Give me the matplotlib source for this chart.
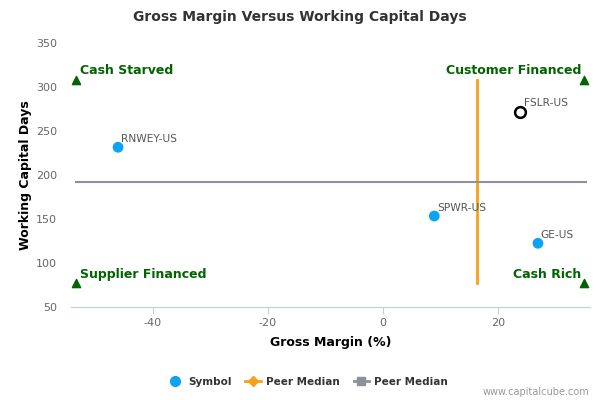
import matplotlib.pyplot as plt
from matplotlib.lines import Line2D

plt.rcParams["axes.unicode_minus"] = False

# company points: gross margin (%) vs working capital days
symbols = ["RNWEY-US", "SPWR-US", "GE-US"]
gross_margin = [-46.0, 8.9, 26.9]
wc_days = [231.5, 153.4, 122.4]

# highlighted company
focus_symbol = "FSLR-US"
focus_margin = 23.7
focus_days = 271.9

# peer medians
median_margin = 16.4
median_days = 192.4

# quadrant corners
x_lo, x_hi = -53.3, 34.9
y_lo, y_hi = 77, 308
quad_labels = ["Cash Starved", "Customer Financed", "Supplier Financed", "Cash Rich"]

xticks = [-40, -20, 0, 20]
yticks = [50, 100, 150, 200, 250, 300, 350]

blue = "#0ca3f2"
green = "#006400"
axis_col = "#c0d0e0"

fig = plt.figure(figsize=(6, 4), dpi=100)
ax = fig.add_axes([0.118, 0.2325, 0.865, 0.66])

# medians
ax.plot([median_margin, median_margin], [y_lo, y_hi], color="#f7a11a", lw=2, zorder=2)
ax.plot([x_lo, x_hi + 0.3], [median_days, median_days], color="#8d8f9a", lw=1.5, zorder=2)

# quadrant markers
ax.scatter([x_lo, x_hi, x_lo, x_hi], [y_hi, y_hi, y_lo, y_lo], marker="^", s=35,
           color=green, zorder=3, clip_on=False)
qkw = dict(textcoords="offset points", color=green, fontsize=9, fontweight="bold", va="center")
ax.annotate(quad_labels[0], (x_lo, y_hi), xytext=(3, 7), ha="left", **qkw)
ax.annotate(quad_labels[1], (x_hi, y_hi), xytext=(-2, 7), ha="right", **qkw)
ax.annotate(quad_labels[2], (x_lo, y_lo), xytext=(3, 6.5), ha="left", **qkw)
ax.annotate(quad_labels[3], (x_hi, y_lo), xytext=(-2, 6.5), ha="right", **qkw)

# points
ax.scatter(gross_margin, wc_days, s=60, color=blue, zorder=4, edgecolors="none")
for s, x, y in zip(symbols, gross_margin, wc_days):
    ax.annotate(s, (x, y), xytext=(2, 6), textcoords="offset points",
                color="#555555", fontsize=7.7, va="center", ha="left")
ax.scatter([focus_margin], [focus_days], s=60, facecolors="white", edgecolors="black",
           linewidths=1.8, zorder=4)
ax.annotate(focus_symbol, (focus_margin, focus_days), xytext=(3, 6), textcoords="offset points",
            color="#555555", fontsize=7.7, va="center", ha="left")

ax.set_xlim(-54.2, 35.9)
ax.set_ylim(50, 350)
ax.set_xticks(xticks)
ax.set_yticks(yticks)
ax.tick_params(axis="x", colors=axis_col, labelcolor="#666666", labelsize=8, length=5, pad=3)
ax.tick_params(axis="y", length=0, labelcolor="#666666", labelsize=8, pad=10)
for side in ["top", "right", "left"]:
    ax.spines[side].set_visible(False)
ax.spines["bottom"].set_color(axis_col)

ax.set_xlabel("Gross Margin (%)", fontsize=9, fontweight="bold", labelpad=6)
ax.set_ylabel("Working Capital Days", fontsize=9, fontweight="bold", labelpad=3)
fig.text(0.5, 0.957, "Gross Margin Versus Working Capital Days", ha="center", va="center",
         fontsize=10, fontweight="bold", color="#333333")

# legend
handles = [
    Line2D([], [], marker="o", ls="none", color=blue, markersize=7),
    Line2D([], [], marker="D", color="#f7a11a", lw=2, markersize=5),
    Line2D([], [], marker="s", color="#8d8f9a", lw=2, markersize=6),
]
leg = fig.legend(handles, ["Symbol", "Peer Median", "Peer Median"], loc="center",
                 bbox_to_anchor=(0.513, 0.045), ncol=3, frameon=False, handlelength=1.5,
                 columnspacing=1.3, handletextpad=0.5, prop={"weight": "bold", "size": 7.5})
for t in leg.get_texts():
    t.set_color("#333333")

fig.text(0.983, 0.02, "www.capitalcube.com", ha="right", va="center", fontsize=7,
         color="#999999")

fig.savefig("out.png", dpi=100)
